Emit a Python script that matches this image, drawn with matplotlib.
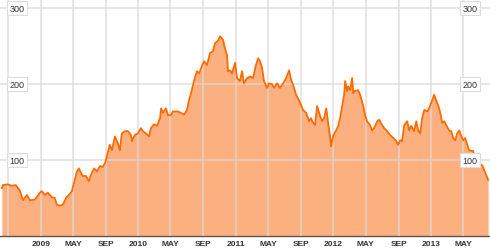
import matplotlib
matplotlib.use("Agg")
import matplotlib.pyplot as plt
import matplotlib.dates as mdates
import matplotlib.transforms as mtransforms
import pandas as pd

# Price series
dates = [
    "2008-08-08", "2008-08-12", "2008-08-30", "2008-09-14", "2008-09-29", "2008-10-14",
    "2008-10-26", "2008-11-10", "2008-11-21", "2008-12-10", "2008-12-28", "2009-01-05",
    "2009-01-16", "2009-01-27", "2009-02-11", "2009-02-22", "2009-03-02", "2009-03-13",
    "2009-03-24", "2009-04-05", "2009-04-16", "2009-04-27", "2009-05-05", "2009-05-16",
    "2009-05-23", "2009-05-31", "2009-06-07", "2009-06-19", "2009-06-30", "2009-07-07",
    "2009-07-19", "2009-07-30", "2009-08-10", "2009-08-21", "2009-08-29", "2009-09-05",
    "2009-09-16", "2009-09-24", "2009-10-05", "2009-10-16", "2009-10-24", "2009-10-31",
    "2009-11-12", "2009-11-23", "2009-12-04", "2009-12-08", "2009-12-19", "2009-12-30",
    "2010-01-10", "2010-01-18", "2010-01-29", "2010-02-10", "2010-02-17", "2010-02-28",
    "2010-03-12", "2010-03-23", "2010-03-27", "2010-04-03", "2010-04-14", "2010-04-22",
    "2010-05-03", "2010-05-10", "2010-05-22", "2010-05-29", "2010-06-09", "2010-06-21",
    "2010-07-02", "2010-07-09", "2010-07-17", "2010-07-28", "2010-08-08", "2010-08-16",
    "2010-08-27", "2010-09-04", "2010-09-15", "2010-09-26", "2010-10-07", "2010-10-15",
    "2010-10-26", "2010-11-03", "2010-11-14", "2010-11-21", "2010-11-29", "2010-12-02",
    "2010-12-10", "2010-12-17", "2010-12-29", "2011-01-05", "2011-01-16", "2011-01-24",
    "2011-01-31", "2011-02-12", "2011-02-23", "2011-03-06", "2011-03-17", "2011-03-25",
    "2011-04-01", "2011-04-09", "2011-04-16", "2011-04-28", "2011-05-05", "2011-05-16",
    "2011-05-24", "2011-06-04", "2011-06-15", "2011-06-27", "2011-07-08", "2011-07-19",
    "2011-07-27", "2011-08-03", "2011-08-14", "2011-08-25", "2011-09-02", "2011-09-09",
    "2011-09-21", "2011-10-02", "2011-10-09", "2011-10-17", "2011-10-24", "2011-11-01",
    "2011-11-12", "2011-11-20", "2011-11-27", "2011-12-05", "2011-12-12", "2011-12-20",
    "2011-12-23", "2011-12-31", "2012-01-11", "2012-01-19", "2012-01-26", "2012-02-03",
    "2012-02-10", "2012-02-14", "2012-02-21", "2012-02-25", "2012-03-04", "2012-03-11",
    "2012-03-15", "2012-03-22", "2012-04-02", "2012-04-10", "2012-04-21", "2012-04-29",
    "2012-05-06", "2012-05-17", "2012-05-25", "2012-06-01", "2012-06-13", "2012-06-20",
    "2012-07-01", "2012-07-09", "2012-07-20", "2012-07-31", "2012-08-12", "2012-08-23",
    "2012-08-30", "2012-09-07", "2012-09-14", "2012-09-22", "2012-10-03", "2012-10-11",
    "2012-10-18", "2012-10-29", "2012-11-06", "2012-11-13", "2012-11-21", "2012-11-28",
    "2012-12-06", "2012-12-17", "2012-12-24", "2013-01-05", "2013-01-12", "2013-01-20",
    "2013-01-27", "2013-02-04", "2013-02-11", "2013-02-19", "2013-02-26", "2013-03-09",
    "2013-03-17", "2013-03-24", "2013-04-01", "2013-04-08", "2013-04-16", "2013-04-23",
    "2013-05-01", "2013-05-08", "2013-05-16", "2013-05-23", "2013-05-31", "2013-06-07",
    "2013-06-15", "2013-06-22", "2013-07-03", "2013-07-11", "2013-07-18", "2013-07-26",
    "2013-08-02",
]
prices = [
    63, 67, 68, 66, 67, 60,
    47, 54, 47, 48, 57, 59,
    54, 57, 51, 50, 41, 40,
    41, 50, 54, 59, 70, 85,
    89, 83, 79, 79, 72, 80,
    89, 85, 92, 91, 96, 105,
    120, 113, 131, 122, 113, 135,
    138, 138, 133, 125, 133, 135,
    142, 138, 135, 131, 142, 147,
    145, 155, 168, 162, 168, 159,
    159, 164, 164, 164, 162, 160,
    166, 178, 188, 204, 217, 214,
    224, 230, 225, 241, 243, 254,
    257, 263, 258, 247, 238, 217,
    218, 214, 228, 208, 204, 217,
    201, 208, 210, 208, 225, 234,
    230, 221, 204, 195, 201, 200,
    195, 201, 195, 201, 208, 218,
    205, 199, 186, 179, 172, 166,
    162, 151, 155, 149, 146, 171,
    158, 151, 155, 168, 149, 129,
    118, 132, 139, 145, 155, 172,
    186, 204, 191, 197, 192, 208,
    188, 191, 192, 186, 172, 158,
    151, 146, 139, 142, 151, 153,
    146, 142, 138, 133, 129, 125,
    120, 126, 125, 146, 151, 139,
    145, 138, 151, 139, 135, 155,
    166, 164, 168, 179, 186, 178,
    172, 162, 149, 151, 146, 139,
    138, 129, 126, 135, 139, 132,
    126, 129, 120, 113, 112, 112,
    100, 96, 95, 93, 87, 80,
    74,
]
y_ticks = [100, 200, 300]

x = pd.to_datetime(dates)

fig = plt.figure(figsize=(4.9, 2.51), dpi=100)
ax = fig.add_axes([0, 14 / 251, 1, 237 / 251])

line_color = "#ff6a00"
fill_color = "#fdb07f"
grid_color = "#d9d9d9"

ax.fill_between(x, prices, 0, color=fill_color, lw=0, zorder=1)
ax.plot(x, prices, color=line_color, lw=1.3, zorder=3)

ax.set_xlim(pd.Timestamp("2008-08-01"), pd.Timestamp("2013-08-09"))
ax.set_ylim(0, 312)

# grid: every 4 months and every 100 units
ax.xaxis.set_major_locator(mdates.MonthLocator(bymonth=[1, 5, 9]))
ax.set_yticks(y_ticks)
ax.grid(True, color=grid_color, lw=1.1, alpha=0.8, zorder=2)
ax.set_axisbelow(False)


def fmt(v, pos=None):
    d = mdates.num2date(v)
    if d.year < 2009:
        return ""
    return str(d.year) if d.month == 1 else d.strftime("%b").upper()


ax.xaxis.set_major_formatter(plt.FuncFormatter(fmt))
ax.tick_params(axis="x", length=0, pad=3, labelsize=6, colors="#333333")
for lab in ax.get_xticklabels():
    lab.set_fontweight("bold")
    lab.set_fontfamily("Liberation Sans")
ax.tick_params(axis="y", length=0, labelleft=False)

for side in ["top", "left", "right"]:
    ax.spines[side].set_visible(False)
ax.spines["bottom"].set_color("#555555")
ax.spines["bottom"].set_linewidth(1.0)

# value labels boxed on both sides
trans = mtransforms.blended_transform_factory(ax.transAxes, ax.transData)
for v in y_ticks:
    for xp in [17 / 490, 470 / 490]:
        ax.text(xp, v, str(v), transform=trans, ha="center", va="center",
                fontsize=6.5, family="Liberation Sans", color="#333333", zorder=5,
                bbox=dict(boxstyle="square,pad=0.25", fc="white", ec="#dddddd", lw=0.8))

fig.savefig("out.png", dpi=100)
